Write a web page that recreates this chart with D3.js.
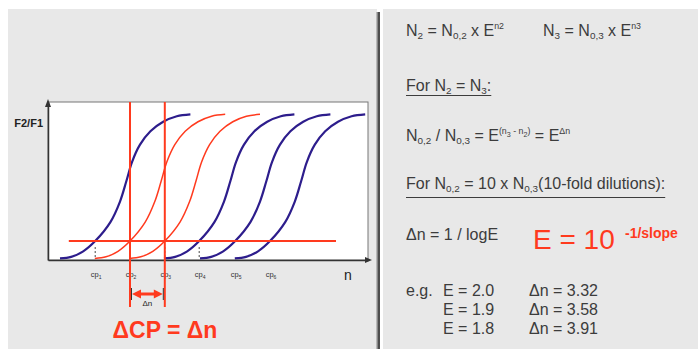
<!DOCTYPE html>
<html>
<head>
<meta charset="utf-8">
<script src="https://cdn.jsdelivr.net/npm/d3@7"></script>
<style>
  body { margin: 0; background: #fff; }
  svg { display: block; font-family: "Liberation Sans", Arial, sans-serif; }
  text { white-space: pre; }
</style>
</head>
<body>
<svg id="chart" width="698" height="349"></svg>
<script>
// cycle at which each curve crosses the threshold (cp1..cp6)
const cps = [5.9, 10.25, 14.6, 18.9, 23.4, 27.75];
const curveColors = ["blue", "red", "red", "blue", "blue", "blue"];
// shape of one amplification curve: [cycles from cp, F2/F1]
const profile = [
  [-4.4, 0.01], [-3, 0.02], [-1.5, 0.055], [0, 0.12], [1.9, 0.24], [3.1, 0.37],
  [3.9, 0.5], [4.6, 0.62], [5.6, 0.73], [6.9, 0.815], [8.5, 0.875], [10.2, 0.91], [11.9, 0.922]
];
const threshold = 0.12;
const thresholdRange = [2.6, 36];
const dashedCps = [0, 2, 3];
const effs = [2.0, 1.9, 1.8];
const deltaNs = [3.32, 3.58, 3.91];

const BLUE = "#2d1d8c", RED = "#ff3a1e", GREY_TXT = "#3c3c3c";
const svg = d3.select("#chart");

// panels
svg.append("rect").attr("x", 8).attr("y", 9).attr("width", 369).attr("height", 340).attr("fill", "#e8e8e8");
svg.append("rect").attr("x", 383).attr("y", 9).attr("width", 315).attr("height", 340).attr("fill", "#e8e8e8");
svg.append("rect").attr("x", 376.5).attr("y", 12).attr("width", 1).attr("height", 337).attr("fill", "#888");
svg.append("rect").attr("x", 377.5).attr("y", 12).attr("width", 2.5).attr("height", 337).attr("fill", "#4d4d4d");

// ---- left: amplification plot
const x = d3.scaleLinear().domain([0, 40]).range([48, 368]);
const y = d3.scaleLinear().domain([0, 1]).range([260, 102]);

svg.append("rect").attr("x", x(0)).attr("y", y(1)).attr("width", x(40) - x(0)).attr("height", y(0) - y(1))
  .attr("fill", "#fff").attr("stroke", "#777").attr("stroke-width", 1);

const line = d3.line().x(d => x(d[0])).y(d => y(d[1])).curve(d3.curveCatmullRom);
const curves = svg.append("g").attr("fill", "none");
cps.forEach((cp, i) => {
  curves.append("path")
    .attr("d", line(profile.map(p => [cp + p[0], p[1]])))
    .attr("stroke", curveColors[i] === "blue" ? BLUE : RED)
    .attr("stroke-width", curveColors[i] === "blue" ? 2.2 : 1.5);
});

// dotted drops from threshold to axis
dashedCps.forEach(i => {
  svg.append("line").attr("x1", x(cps[i])).attr("x2", x(cps[i]))
    .attr("y1", y(threshold) + 6).attr("y2", y(0) - 2)
    .attr("stroke", "#444").attr("stroke-width", 1).attr("stroke-dasharray", "2,2");
});

// threshold line
svg.append("line").attr("x1", x(thresholdRange[0])).attr("x2", x(thresholdRange[1]))
  .attr("y1", y(threshold)).attr("y2", y(threshold)).attr("stroke", RED).attr("stroke-width", 2);

// axes
svg.append("g").attr("transform", `translate(0,${y(0)})`)
  .call(d3.axisBottom(x).tickValues(cps).tickSize(0).tickSizeOuter(0).tickFormat(""))
  .call(g => g.select(".domain").attr("stroke", "#333").attr("stroke-width", 1.5));
svg.append("g").attr("transform", `translate(${x(0)},0)`)
  .call(d3.axisLeft(y).ticks(0).tickSizeOuter(0))
  .call(g => g.select(".domain").attr("stroke", "#333").attr("stroke-width", 1.5));
svg.append("path").attr("d", `M${x(0) - 3},${y(1) + 5}L${x(0)},${y(1) - 3}L${x(0) + 3},${y(1) + 5}Z`).attr("fill", "#333");
svg.append("path").attr("d", `M${x(40) - 3},${y(0) - 3}L${x(40) + 4},${y(0)}L${x(40) - 3},${y(0) + 3}Z`).attr("fill", "#333");

// cp labels
cps.forEach((cp, i) => {
  const t = svg.append("text").attr("x", x(cp) + 1).attr("y", 277).attr("text-anchor", "middle")
    .attr("font-size", 7.5).attr("fill", "#333");
  t.append("tspan").text("cp");
  t.append("tspan").attr("font-size", 5).attr("dy", 1.5).text(i + 1);
});

svg.append("text").attr("x", 43).attr("y", 127).attr("text-anchor", "end")
  .attr("font-size", 11).attr("font-weight", "bold").attr("fill", "#222").text("F2/F1");
svg.append("text").attr("x", 348).attr("y", 280).attr("text-anchor", "middle")
  .attr("font-size", 14).attr("fill", "#222").text("n");

// red verticals at cp2 and cp3
[cps[1], cps[2]].forEach(cp => {
  svg.append("line").attr("x1", x(cp)).attr("x2", x(cp)).attr("y1", y(1)).attr("y2", 307)
    .attr("stroke", RED).attr("stroke-width", 2);
  svg.append("line").attr("x1", x(cp) + (cp === cps[1] ? 1.5 : -1.5)).attr("x2", x(cp) + (cp === cps[1] ? 1.5 : -1.5))
    .attr("y1", 288).attr("y2", 300).attr("stroke", "#333").attr("stroke-width", 1);
});

// double arrow Δn
const ax1 = x(cps[1]) + 2, ax2 = x(cps[2]) - 2, ay = 294;
svg.append("line").attr("x1", ax1 + 6).attr("x2", ax2 - 6).attr("y1", ay).attr("y2", ay)
  .attr("stroke", RED).attr("stroke-width", 3);
svg.append("path").attr("d", `M${ax1},${ay}L${ax1 + 9},${ay - 4.5}L${ax1 + 9},${ay + 4.5}Z`).attr("fill", RED);
svg.append("path").attr("d", `M${ax2},${ay}L${ax2 - 9},${ay - 4.5}L${ax2 - 9},${ay + 4.5}Z`).attr("fill", RED);
svg.append("text").attr("x", (ax1 + ax2) / 2).attr("y", 306).attr("text-anchor", "middle")
  .attr("font-size", 8).attr("fill", "#222").text("Δn");

svg.append("text").attr("x", 165).attr("y", 338).attr("text-anchor", "middle")
  .attr("font-size", 23).attr("font-weight", "bold").attr("fill", RED).text("ΔCP = Δn");

// ---- right: formulas
const modes = {
  "": { scale: 1, rise: 0 },
  sub: { scale: 0.62, rise: -0.2 },
  sup: { scale: 0.55, rise: 0.42 },
  supsub: { scale: 0.45, rise: 0.22 }
};
function rich(px, py, parts, size, fill) {
  const t = svg.append("text").attr("x", px).attr("y", py).attr("font-size", size).attr("fill", fill || GREY_TXT);
  let shift = 0;
  parts.forEach(([s, m]) => {
    const cfg = modes[m];
    const target = -cfg.rise * size;
    t.append("tspan").attr("dy", target - shift).attr("font-size", size * cfg.scale).text(s);
    shift = target;
  });
  return t;
}
function underline(t, uy) {
  const b = t.node().getBBox();
  svg.append("line").attr("x1", b.x).attr("x2", b.x + b.width).attr("y1", uy).attr("y2", uy)
    .attr("stroke", GREY_TXT).attr("stroke-width", 1);
}

rich(406, 36, [["N", ""], ["2", "sub"], [" = N", ""], ["0,2", "sub"], [" x E", ""], ["n2", "sup"]], 16);
rich(543, 36, [["N", ""], ["3", "sub"], [" = N", ""], ["0,3", "sub"], [" x E", ""], ["n3", "sup"]], 16);
underline(rich(406, 91, [["For N", ""], ["2", "sub"], [" = N", ""], ["3", "sub"], [":", ""]], 16), 95.5);
rich(406, 141, [["N", ""], ["0,2", "sub"], [" / N", ""], ["0,3", "sub"], [" = E", ""], ["(n", "sup"], ["3", "supsub"],
  [" - n", "sup"], ["2", "supsub"], [")", "sup"], [" = E", ""], ["Δn", "sup"]], 16);
underline(rich(406, 189, [["For N", ""], ["0,2", "sub"], [" = 10 x N", ""], ["0,3", "sub"], ["(10-fold dilutions):", ""]], 16), 197.5);

rich(406, 240, [["Δn = 1 / logE", ""]], 16);
svg.append("text").attr("x", 533).attr("y", 249).attr("font-size", 28).attr("fill", RED).text("E = 10");
svg.append("text").attr("x", 625).attr("y", 238).attr("font-size", 14).attr("font-weight", "bold")
  .attr("fill", RED).text("-1/slope");

svg.append("text").attr("x", 406).attr("y", 296).attr("font-size", 16).attr("fill", GREY_TXT).text("e.g.");
effs.forEach((e, i) => {
  const ry = 296 + i * 19;
  svg.append("text").attr("x", 443).attr("y", ry).attr("font-size", 16).attr("fill", GREY_TXT)
    .text("E = " + e.toFixed(1));
  svg.append("text").attr("x", 529).attr("y", ry).attr("font-size", 16).attr("fill", GREY_TXT)
    .text("Δn = " + deltaNs[i].toFixed(2));
});
</script>
</body>
</html>
